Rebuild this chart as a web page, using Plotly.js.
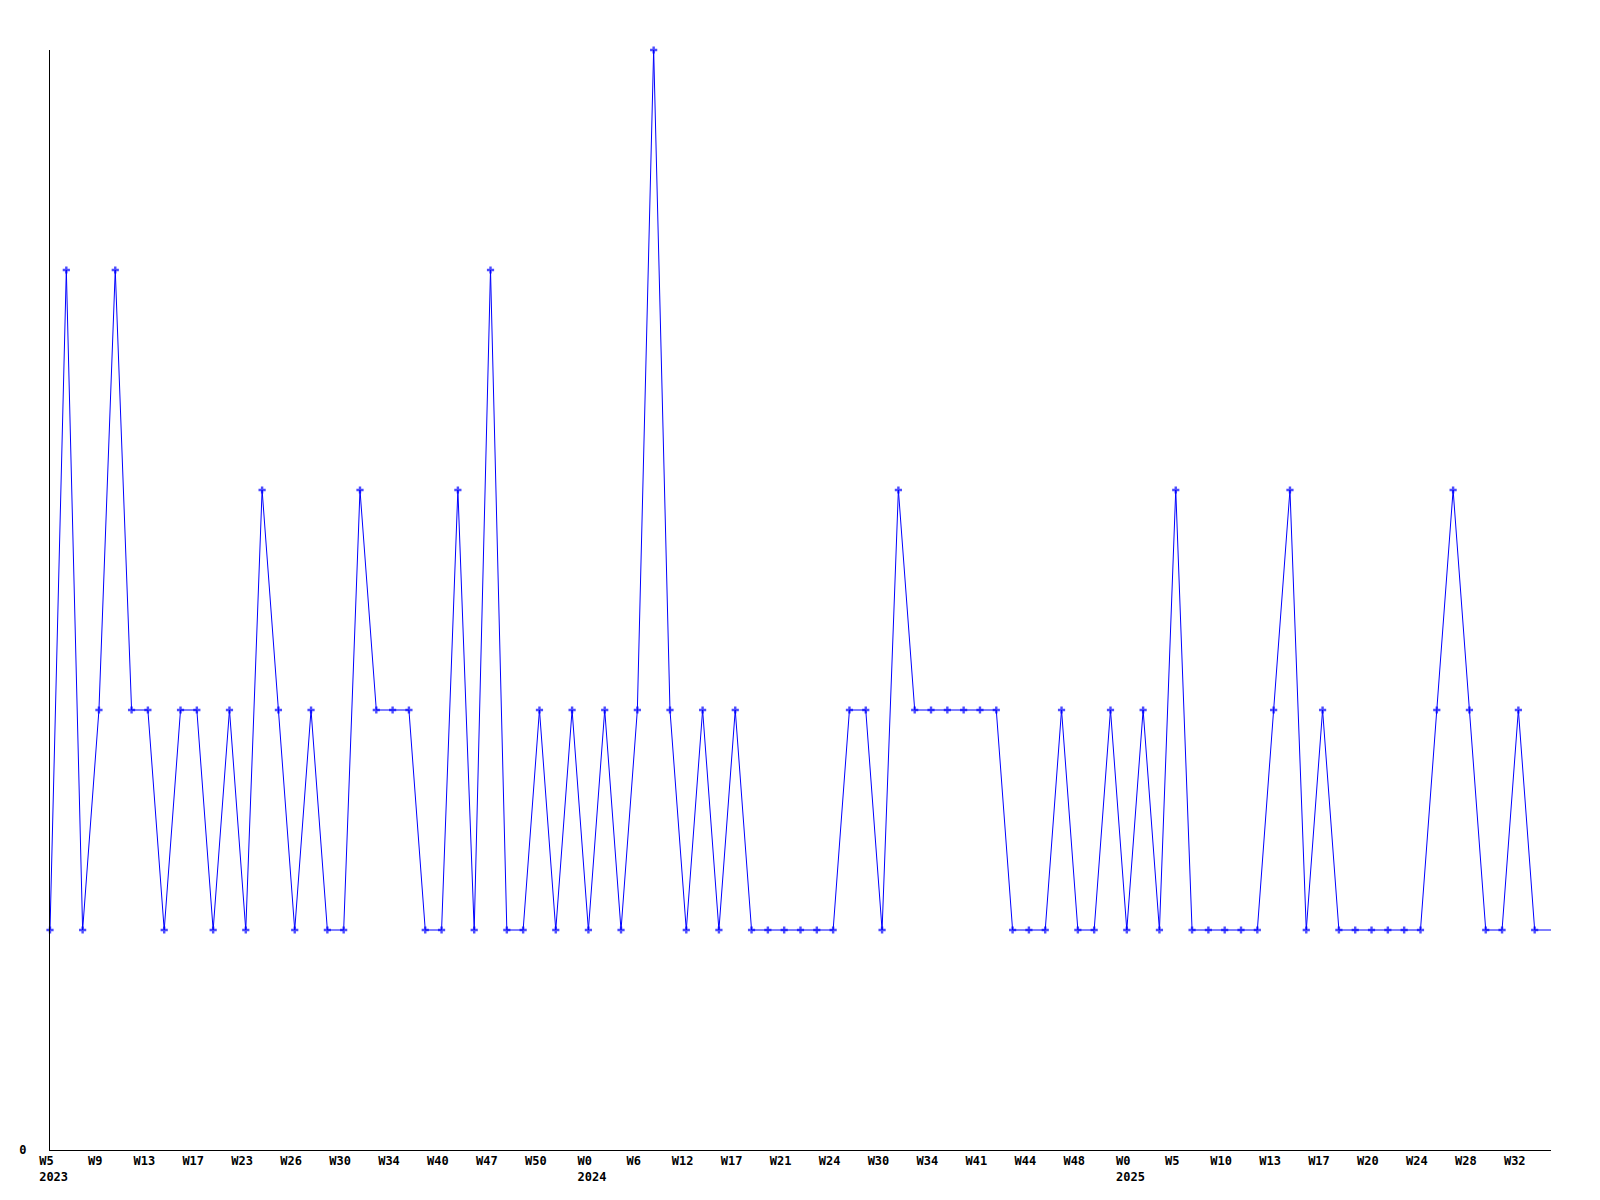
<!DOCTYPE html>
<html>
<head>
<meta charset="utf-8">
<script src="https://cdn.plot.ly/plotly-3.0.1.min.js"></script>
<style>
  html, body { margin: 0; padding: 0; background: #ffffff; }
  #chart { width: 1600px; height: 1200px; }
</style>
</head>
<body>
<div id="chart"></div>
<script>
// Weekly counts, one per plotted week (in order)
const values = [
  1,4,1,2,4,2,2,1,2,2,
  1,2,1,3,2,1,2,1,1,3,
  2,2,2,1,1,3,1,4,1,1,
  2,1,2,1,2,1,2,5,2,1,
  2,1,2,1,1,1,1,1,1,2,
  2,1,3,2,2,2,2,2,2,1,
  1,1,2,1,1,2,1,2,1,3,
  1,1,1,1,1,2,3,1,2,1,
  1,1,1,1,1,2,3,2,1,1,
  2,1,1
];

// Tick labels (every third plotted week)
const weekLabels = ["W5","W9","W13","W17","W23","W26","W30","W34","W40","W47","W50",
                    "W0","W6","W12","W17","W21","W24","W30","W34","W41","W44","W48",
                    "W0","W5","W10","W13","W17","W20","W24","W28","W32"];
const yearTickIndex = [0, 11, 22];
const yearLabels = ["2023", "2024", "2025"];

const TICK_STEP = 3;
const NB = "\u00A0";

const xs = values.map((_, i) => i);
const tickvals = weekLabels.map((_, k) => k * TICK_STEP);
const ticktext = weekLabels.map((w, k) => {
  const yi = yearTickIndex.indexOf(k);
  if (yi < 0) return w + NB;
  const y = yearLabels[yi];
  return NB + w + NB.repeat(Math.max(0, y.length - w.length)) + "<br>" + NB + y;
});
const markerSizes = values.map((_, i) => (i === values.length - 1 ? 0 : 6));

const font = { family: "DejaVu Sans Mono, monospace", size: 12, color: "#000000" };

Plotly.newPlot("chart", [{
  type: "scatter",
  mode: "lines+markers",
  x: xs,
  y: values,
  line: { color: "#0000ff", width: 1 },
  marker: { symbol: "cross", size: markerSizes, color: "#0000ff", line: { width: 0 } },
  cliponaxis: false,
  hoverinfo: "skip"
}], {
  width: 1600,
  height: 1200,
  margin: { l: 50, r: 49, t: 50, b: 50 },
  paper_bgcolor: "#ffffff",
  plot_bgcolor: "#ffffff",
  showlegend: false,
  font: font,
  xaxis: {
    range: [0, values.length - 1],
    tickmode: "array",
    tickvals: tickvals,
    ticktext: ticktext,
    ticks: "",
    showgrid: false,
    zeroline: false,
    showline: true,
    linecolor: "#000000",
    linewidth: 1,
    tickfont: { family: font.family, size: 12, color: "#000000", weight: "bold" },
    fixedrange: true
  },
  yaxis: {
    range: [0, 5],
    tickmode: "array",
    tickvals: [0],
    ticktext: ["0"],
    ticks: "",
    ticklabelstandoff: 20,
    showgrid: false,
    zeroline: false,
    showline: true,
    linecolor: "#000000",
    linewidth: 1,
    tickfont: { family: font.family, size: 12, color: "#000000", weight: "bold" },
    fixedrange: true
  }
}, { displayModeBar: false, staticPlot: true });
</script>
</body>
</html>
